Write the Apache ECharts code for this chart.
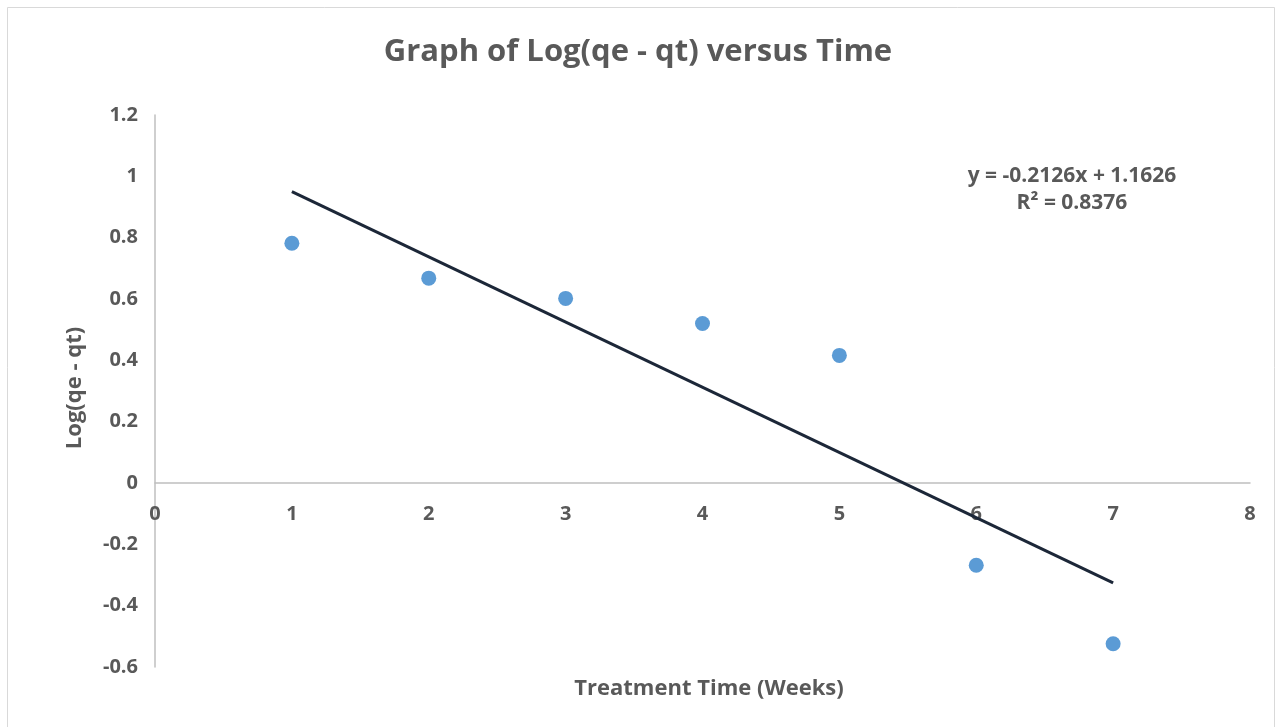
<!DOCTYPE html>
<html><head><meta charset="utf-8">
<script src="https://cdn.jsdelivr.net/npm/echarts@6/dist/echarts.min.js"></script>
<style>html,body{margin:0;padding:0;background:#fff}#c{width:1276px;height:727px}</style>
</head><body><div id="c"></div>
<script>
const weeks = [1, 2, 3, 4, 5, 6, 7];
const logValues = [0.782, 0.668, 0.602, 0.520, 0.416, -0.268, -0.524];
const trendSlope = -0.2126;
const trendIntercept = 1.1626;
const trendX = [1, 7];
const xTicks = [0, 1, 2, 3, 4, 5, 6, 7, 8];
const yTicks = [-0.6, -0.4, -0.2, 0, 0.2, 0.4, 0.6, 0.8, 1, 1.2];
const titleText = 'Graph of Log(qe - qt) versus Time';
const xName = 'Treatment Time (Weeks)';
const yName = 'Log(qe - qt)';
const eqText = 'y = -0.2126x + 1.1626';
const r2Text = 'R² = 0.8376';

const FONT = '"Open Sans", sans-serif';
const GREY = '#595959';
const chart = echarts.init(document.getElementById('c'), null, {renderer: 'canvas'});
const trendData = trendX.map(x => [x, trendSlope * x + trendIntercept]);
const gridTop = 115, gridBottom = 60, H = 727;
const plotH = H - gridTop - gridBottom;
const yMin = yTicks[0], yMax = yTicks[yTicks.length - 1];
// offset of x axis from the grid bottom to the value 0
const zeroOffset = -plotH * (0 - yMin) / (yMax - yMin);
chart.setOption({
  animation: false,
  backgroundColor: '#fff',
  title: [
    {text: titleText, left: 'center', top: 32, textStyle: {fontFamily: FONT, fontSize: 31, fontWeight: 'bold', color: GREY}},
    {text: xName, left: 704, textAlign: 'center', top: 673, textStyle: {fontFamily: FONT, fontSize: 22, fontWeight: 'bold', color: GREY}}
  ],
  graphic: [
    {type: 'rect', silent: true, shape: {x: 7.5, y: 7.5, width: 1267, height: 740}, style: {fill: null, stroke: '#d9d9d9', lineWidth: 1}},
    {type: 'text', x: 75, y: 388, rotation: Math.PI / 2, style: {text: yName, fontFamily: FONT, fontSize: 22, fontWeight: 'bold', fill: GREY, align: 'center', verticalAlign: 'middle'}},
    {type: 'text', x: 1072, y: 176, style: {text: eqText, fontFamily: FONT, fontSize: 21, fontWeight: 'bold', fill: GREY, align: 'center', verticalAlign: 'middle'}},
    {type: 'text', x: 1072, y: 203, style: {text: r2Text, fontFamily: FONT, fontSize: 21, fontWeight: 'bold', fill: GREY, align: 'center', verticalAlign: 'middle'}}
  ],
  grid: {left: 155, right: 26, top: gridTop, bottom: gridBottom, containLabel: false},
  xAxis: {
    type: 'value', min: xTicks[0], max: xTicks[xTicks.length - 1], interval: 1,
    position: 'bottom', offset: zeroOffset,
    axisLine: {onZero: false, lineStyle: {color: '#bfbfbf', width: 1.5}},
    axisTick: {show: false}, splitLine: {show: false},
    axisLabel: {margin: 21, fontFamily: FONT, fontSize: 20, fontWeight: 'bold', color: GREY}
  },
  yAxis: {
    type: 'value', min: yMin, max: yMax, interval: 0.2,
    axisLine: {show: true, lineStyle: {color: '#bfbfbf', width: 1.5}},
    axisTick: {show: false}, splitLine: {show: false},
    axisLabel: {margin: 17, fontFamily: FONT, fontSize: 20, fontWeight: 'bold', color: GREY,
      formatter: v => String(Math.round(v * 10) / 10)}
  },
  series: [
    {type: 'line', data: trendData, symbol: 'none', lineStyle: {color: '#1c2738', width: 3}, z: 2},
    {type: 'scatter', data: weeks.map((w, i) => [w, logValues[i]]), symbolSize: 15, itemStyle: {color: '#5b9bd5', opacity: 1}, z: 3}
  ]
});
</script></body></html>
